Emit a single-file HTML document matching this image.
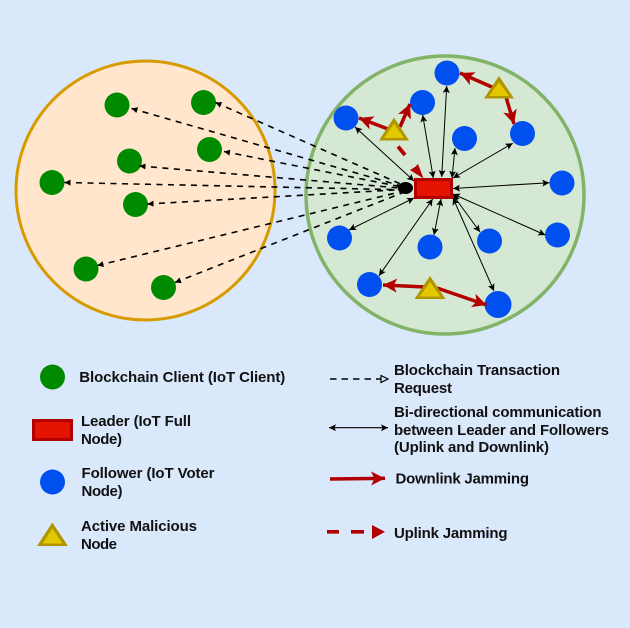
<!DOCTYPE html>
<html><head><meta charset="utf-8">
<style>
html,body{margin:0;padding:0;background:#dae8fc;width:630px;height:628px;overflow:hidden}
svg{display:block}
text{font-family:"Liberation Sans",sans-serif;font-size:15px;font-weight:bold;fill:#111}
</style></head><body>
<svg width="630" height="628" viewBox="0 0 630 628" xmlns="http://www.w3.org/2000/svg">
<defs>
<marker id="a" markerUnits="userSpaceOnUse" markerWidth="10" markerHeight="8" refX="7" refY="3.5" orient="auto-start-reverse"><path d="M0 0L7 3.5L0 7L1.5 3.5Z" fill="#000"/></marker>
<marker id="d" markerUnits="userSpaceOnUse" markerWidth="10" markerHeight="8" refX="6" refY="3" orient="auto-start-reverse"><path d="M0 0L6 3L0 6Z" fill="#000"/></marker>
<marker id="r" markerUnits="userSpaceOnUse" markerWidth="16" markerHeight="16" refX="14" refY="7" orient="auto"><path d="M0 0L14 7L0 14L3.5 7Z" fill="#b20000"/></marker>
</defs>
<rect width="630" height="628" fill="#dae8fc"/>
<circle cx="145.5" cy="190.5" r="129.5" fill="#ffe6cc" stroke="#d79b00" stroke-width="3"/>
<circle cx="445" cy="195" r="139" fill="#d5e8d4" stroke="#82b366" stroke-width="3.5"/>

<g fill="#008a00">
<circle cx="117" cy="105" r="12.5"/><circle cx="203.5" cy="102.5" r="12.5"/><circle cx="209.5" cy="149.5" r="12.5"/><circle cx="129.5" cy="161" r="12.5"/><circle cx="52" cy="182.5" r="12.5"/><circle cx="135.5" cy="204.5" r="12.5"/><circle cx="86" cy="269" r="12.5"/><circle cx="163.5" cy="287.5" r="12.5"/>
</g>
<g fill="#0050ef">
<circle cx="346" cy="118" r="12.5"/><circle cx="422.5" cy="102.5" r="12.5"/><circle cx="447" cy="73" r="12.5"/><circle cx="464.5" cy="138.5" r="12.5"/><circle cx="522.5" cy="133.5" r="12.5"/><circle cx="562" cy="183" r="12.5"/><circle cx="557.5" cy="235" r="12.5"/><circle cx="489.5" cy="241" r="12.5"/><circle cx="430" cy="247" r="12.5"/><circle cx="339.5" cy="238" r="12.5"/><circle cx="369.5" cy="284.5" r="12.5"/><circle cx="498" cy="304.5" r="13.5"/>
</g>

<g stroke="#000" stroke-width="1.6" stroke-dasharray="6 5.5" fill="none">
<line x1="131.5" y1="108.5" x2="412" y2="189" marker-start="url(#d)" marker-end="url(#d)"/>
<line x1="215.5" y1="102.5" x2="412" y2="189" marker-start="url(#d)" marker-end="url(#d)"/>
<line x1="224" y1="151.5" x2="412" y2="189" marker-start="url(#d)" marker-end="url(#d)"/>
<line x1="139.5" y1="166" x2="412" y2="189" marker-start="url(#d)" marker-end="url(#d)"/>
<line x1="64.5" y1="182.5" x2="412" y2="190" marker-start="url(#d)" marker-end="url(#d)"/>
<line x1="147.5" y1="204" x2="412" y2="189" marker-start="url(#d)" marker-end="url(#d)"/>
<line x1="97.5" y1="265.5" x2="412" y2="189" marker-start="url(#d)" marker-end="url(#d)"/>
<line x1="175" y1="282.5" x2="412" y2="189" marker-start="url(#d)" marker-end="url(#d)"/>
</g>
<ellipse cx="405.5" cy="188" rx="7.5" ry="6" fill="#000"/>

<g stroke="#000" stroke-width="1">
<line x1="355" y1="127" x2="414" y2="181" marker-start="url(#a)" marker-end="url(#a)"/>
<line x1="422.7" y1="115" x2="433.3" y2="178" marker-start="url(#a)" marker-end="url(#a)"/>
<line x1="446.7" y1="86" x2="441.7" y2="177" marker-start="url(#a)" marker-end="url(#a)"/>
<line x1="455" y1="148" x2="452" y2="178" marker-start="url(#a)" marker-end="url(#a)"/>
<line x1="512.7" y1="143.3" x2="453" y2="178" marker-start="url(#a)" marker-end="url(#a)"/>
<line x1="549.3" y1="182.7" x2="453" y2="188.5" marker-start="url(#a)" marker-end="url(#a)"/>
<line x1="545.3" y1="235" x2="453" y2="194" marker-start="url(#a)" marker-end="url(#a)"/>
<line x1="480" y1="232" x2="453" y2="195" marker-start="url(#a)" marker-end="url(#a)"/>
<line x1="434" y1="235" x2="441" y2="199" marker-start="url(#a)" marker-end="url(#a)"/>
<line x1="379" y1="275.7" x2="432.7" y2="199" marker-start="url(#a)" marker-end="url(#a)"/>
<line x1="494" y1="291" x2="453" y2="198" marker-start="url(#a)" marker-end="url(#a)"/>
<line x1="349" y1="230" x2="414" y2="198" marker-start="url(#a)" marker-end="url(#a)"/>
</g>

<rect x="415.5" y="179.5" width="36" height="18" fill="#e51400" stroke="#b20000" stroke-width="3"/>

<g stroke="#b20000" stroke-width="3.5" fill="none">
<line x1="388" y1="129" x2="359" y2="118" marker-end="url(#r)"/>
<line x1="400" y1="127" x2="410" y2="104" marker-end="url(#r)"/>
<line x1="493" y1="87.5" x2="460" y2="73" marker-end="url(#r)"/>
<line x1="506" y1="97" x2="514" y2="124" marker-end="url(#r)"/>
<line x1="425" y1="287" x2="383" y2="285" marker-end="url(#r)"/>
<line x1="437" y1="288" x2="486.5" y2="305" marker-end="url(#r)"/>
<line x1="398" y1="146.5" x2="405" y2="155" stroke-width="3.8"/>
</g>
<path d="M423.5 178.5L418 164L415 167L410 170Z" fill="#b20000"/>

<g id="tris">
<path d="M394 117.5L409 140.5H379Z" fill="#b09500"/><path d="M394 123.5L404 138H384Z" fill="#e3c800"/>
<path d="M499 76L514 98.5H484Z" fill="#b09500"/><path d="M499 82L509 96H489Z" fill="#e3c800"/>
<path d="M430 276L445.5 299H414.5Z" fill="#b09500"/><path d="M430 282L440.5 296.5H419.5Z" fill="#e3c800"/>
</g>

<!-- legend left -->
<circle cx="52.5" cy="377" r="12.5" fill="#008a00"/>
<rect x="33.5" y="420.5" width="38" height="19" fill="#e51400" stroke="#b20000" stroke-width="3"/>
<circle cx="52.5" cy="482" r="12.5" fill="#0050ef"/>
<path d="M52.3 522.5L68 546H37Z" fill="#b09500"/><path d="M52.3 528.5L62.5 543.5H42.5Z" fill="#e3c800"/>

<text x="79.3" y="382" textLength="206">Blockchain Client (IoT Client)</text>
<text x="81" y="426" textLength="110">Leader (IoT Full</text>
<text x="81" y="444" textLength="41">Node)</text>
<text x="81.5" y="478" textLength="133">Follower (IoT Voter</text>
<text x="81.5" y="496" textLength="41">Node)</text>
<text x="81" y="531" textLength="116">Active Malicious</text>
<text x="81" y="549" textLength="36">Node</text>

<!-- legend right -->
<line x1="330" y1="379" x2="381" y2="379" stroke="#000" stroke-width="1.5" stroke-dasharray="6.5 5"/>
<path d="M381 375.5L388 379L381 382.5Z" fill="#dae8fc" stroke="#000" stroke-width="1.2"/>
<line x1="329" y1="427.7" x2="388" y2="427.7" stroke="#000" stroke-width="1.2" marker-start="url(#a)" marker-end="url(#a)"/>
<line x1="330" y1="479" x2="385" y2="478.3" stroke="#b20000" stroke-width="3.5" marker-end="url(#r)"/>
<path d="M327 530h12v3.6h-12zM351 530h13v3.6h-13z" fill="#b20000"/>
<path d="M372 525L385 531.8L372 539Z" fill="#b20000"/>

<text x="394" y="375" textLength="166">Blockchain Transaction</text>
<text x="394" y="393" textLength="58">Request</text>
<text x="394" y="417" textLength="207.5">Bi-directional communication</text>
<text x="394" y="435" textLength="215">between Leader and Followers</text>
<text x="394" y="452" textLength="155">(Uplink and Downlink)</text>
<text x="395.5" y="483.5" textLength="133.5">Downlink Jamming</text>
<text x="394" y="538" textLength="113.5">Uplink Jamming</text>
</svg>
</body></html>
